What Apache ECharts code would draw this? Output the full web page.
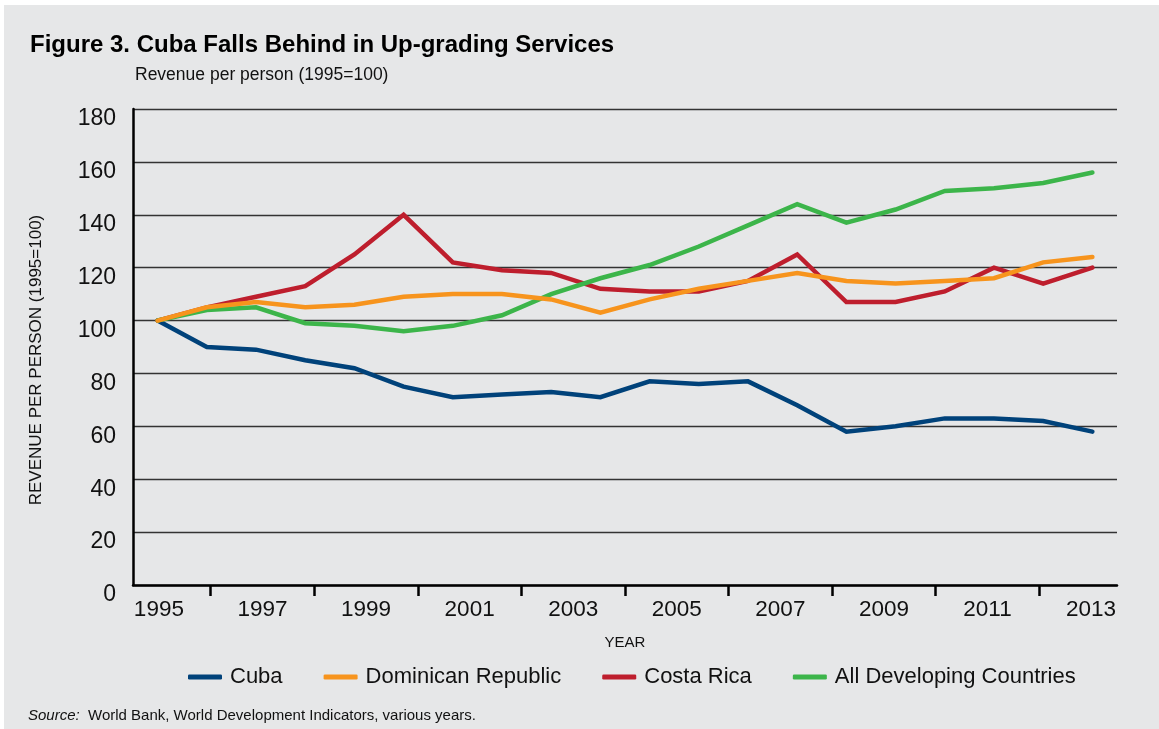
<!DOCTYPE html>
<html><head><meta charset="utf-8">
<script src="https://cdn.jsdelivr.net/npm/echarts@6/dist/echarts.min.js"></script>
<style>
html,body{margin:0;padding:0;background:#fff;}
#c{position:absolute;left:0;top:0;width:1159px;height:729px;
background:linear-gradient(#fff,#fff) top left/100% 5px no-repeat,linear-gradient(#fff,#fff) top left/4px 100% no-repeat,#e6e7e8;}
</style></head><body>
<div id="c"></div>
<script>
const axisYears = ['1995','1996','1997','1998','1999','2000','2001','2002','2003','2004','2005','2006','2007','2008','2009','2010','2011','2012','2013'];
const dataYears = ['1995','1996','1997','1998','1999','2000','2001','2002','2003','2004','2005','2006','2007','2008','2009','2010','2011','2012','2013','2014'];
const cuba = [100,90,89,85,82,75,71,72,73,71,77,76,77,68,58,60,63,63,62,58];
const dominican = [100,105,107,105,106,109,110,110,108,103,108,112,115,118,115,114,115,116,122,124];
const costaRica = [100,105,109,113,125,140,122,119,118,112,111,111,115,125,107,107,111,120,114,120];
const developing = [100,104,105,99,98,96,98,102,110,116,121,128,136,144,137,142,149,150,152,156];
const yTicks = {min:0, max:180, interval:20};

const F = "'Liberation Sans Narrow','Arial Narrow','Liberation Sans',Arial,sans-serif";
const chart = echarts.init(document.getElementById('c'), null, {renderer:'canvas'});
function line(name, data, color, z){
  return {name, type:'line', data, xAxisIndex:1, symbol:'none', z,
    lineStyle:{color, width:4.5, cap:'round', join:'miter'}, itemStyle:{color}};
}
chart.setOption({
  animation:false,
  textStyle:{fontFamily:F},
  title:[
    {text:'Figure 3. Cuba Falls Behind in Up-grading Services', left:25, top:28,
     textStyle:{fontFamily:F, fontWeight:'bold', fontSize:24, color:'#000'}},
    {text:'Revenue per person (1995=100)', left:130, top:61,
     textStyle:{fontFamily:F, fontWeight:'normal', fontSize:17.5, color:'#111'}},
    {text:'{i|Source:}  World Bank, World Development Indicators, various years.', left:23, top:703,
     textStyle:{rich:{i:{fontFamily:F, fontStyle:'italic', fontSize:15, color:'#111'}}, fontFamily:F, fontWeight:'normal', fontSize:15, color:'#111'}}
  ],
  legend:{left:183, top:661, width:970, itemWidth:34, itemHeight:5, itemGap:41, icon:'roundRect',
    textStyle:{fontFamily:F, fontSize:22, color:'#111', padding:[0,0,0,3]},
    data:['Cuba','Dominican Republic','Costa Rica','All Developing Countries']},
  grid:{left:133, right:42, top:109, bottom:144, containLabel:false},
  xAxis:[
    {type:'category', data:axisYears, boundaryGap:true, position:'bottom',
     name:'YEAR', nameLocation:'middle', nameGap:50,
     nameTextStyle:{fontFamily:F, fontSize:15, color:'#111'},
     axisLine:{lineStyle:{color:'#000', width:2.5}},
     axisTick:{show:true, alignWithLabel:true, length:11, lineStyle:{color:'#000', width:2.5},
       interval:(i)=> i%2===1},
     axisLabel:{interval:(i)=> i%2===0, fontFamily:F, fontSize:22.5, color:'#111', margin:13},
     splitLine:{show:false}},
    {type:'category', data:dataYears, boundaryGap:true, show:false}
  ],
  yAxis:{type:'value', min:yTicks.min, max:yTicks.max, interval:yTicks.interval,
    name:'REVENUE PER PERSON (1995=100)', nameLocation:'middle', nameRotate:90, nameGap:88,
    nameTextStyle:{fontFamily:F, fontSize:17, color:'#111', padding:[0,26,0,0]},
    axisLine:{show:true, lineStyle:{color:'#000', width:2.5}},
    axisTick:{show:false},
    axisLabel:{fontFamily:F, fontSize:23, color:'#111', margin:17, verticalAlign:'top', lineHeight:20},
    splitLine:{lineStyle:{color:'#333', width:1.3}}},
  series:[
    line('Cuba', cuba, '#00427a', 2),
    line('Dominican Republic', dominican, '#f7941d', 5),
    line('Costa Rica', costaRica, '#be1e2d', 3),
    line('All Developing Countries', developing, '#3cb54a', 4)
  ]
});
</script>
</body></html>
